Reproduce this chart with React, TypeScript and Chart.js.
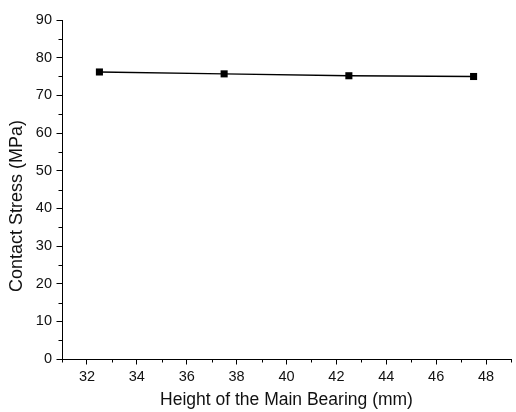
import React, { useEffect, useRef } from "react";
import { Chart, registerables } from "chart.js";

Chart.register(...registerables);

const heights = [32.5, 37.5, 42.5, 47.5];
const stress = [76.2, 75.7, 75.2, 75.0];
const xMajorTicks = [32, 34, 36, 38, 40, 42, 44, 46, 48];
const xMinorTicks = [31, 33, 35, 37, 39, 41, 43, 45, 47, 49];
const yMajorTicks = [0, 10, 20, 30, 40, 50, 60, 70, 80, 90];
const yMinorTicks = [5, 15, 25, 35, 45, 55, 65, 75, 85];
const xTitle = "Height of the Main Bearing (mm)";
const yTitle = "Contact Stress (MPa)";

const FONT = "'Liberation Sans', Arial, sans-serif";
const TEXT = "#111";

const decorPlugin = {
  id: "decor",
  afterDraw(chart: any) {
    const { ctx, chartArea, scales, height } = chart;
    ctx.save();
    ctx.strokeStyle = "#000";
    ctx.lineWidth = 1;
    ctx.beginPath();
    for (const v of xMinorTicks) {
      const px = Math.round(scales.x.getPixelForValue(v)) + 0.5;
      ctx.moveTo(px, chartArea.bottom);
      ctx.lineTo(px, chartArea.bottom + 3.5);
    }
    for (const v of yMinorTicks) {
      const py = Math.round(scales.y.getPixelForValue(v)) + 0.5;
      ctx.moveTo(chartArea.left, py);
      ctx.lineTo(chartArea.left - 3.5, py);
    }
    ctx.stroke();
    // y-axis title, centred on the canvas height
    ctx.translate(17.5, height / 2);
    ctx.rotate(-Math.PI / 2);
    ctx.fillStyle = TEXT;
    ctx.font = `18px ${FONT}`;
    ctx.textAlign = "center";
    ctx.textBaseline = "middle";
    ctx.fillText(yTitle, 0, 0);
    ctx.restore();
  },
};

export default function App() {
  const ref = useRef<HTMLCanvasElement | null>(null);
  useEffect(() => {
    if (!ref.current) return;
    Chart.defaults.font.family = FONT;
    const chart = new Chart(ref.current, {
      type: "scatter",
      data: {
        datasets: [
          {
            data: heights.map((h, i) => ({ x: h, y: stress[i] })),
            showLine: true,
            borderColor: "#000",
            borderWidth: 1.3,
            backgroundColor: "#000",
            pointStyle: "rect",
            pointRadius: 5,
            pointBorderWidth: 0,
            pointBackgroundColor: "#000",
          },
        ],
      },
      options: {
        animation: false,
        responsive: true,
        maintainAspectRatio: false,
        layout: { padding: { top: 20, right: 2, left: 0, bottom: 0 } },
        plugins: { legend: { display: false }, tooltip: { enabled: false } },
        scales: {
          x: {
            type: "linear",
            min: 31,
            max: 49,
            afterBuildTicks: (s: any) => {
              s.ticks = xMajorTicks.map((v) => ({ value: v }));
            },
            afterFit: (s: any) => {
              s.height = 53;
            },
            grid: { drawOnChartArea: false, drawTicks: true, tickLength: 5.5, tickColor: "#000" },
            border: { display: true, color: "#000", width: 1 },
            ticks: { color: TEXT, font: { size: 14.5 }, padding: 3.5, maxRotation: 0 },
            title: {
              display: true,
              text: xTitle,
              color: TEXT,
              font: { size: 17.5 },
              padding: { top: 4, bottom: 1.5 },
            },
          },
          y: {
            type: "linear",
            min: 0,
            max: 90,
            afterBuildTicks: (s: any) => {
              s.ticks = yMajorTicks.map((v) => ({ value: v }));
            },
            afterFit: (s: any) => {
              s.width = 62;
            },
            grid: { drawOnChartArea: false, drawTicks: true, tickLength: 5.5, tickColor: "#000" },
            border: { display: true, color: "#000", width: 1 },
            ticks: { color: TEXT, font: { size: 14.5 }, padding: 4.5 },
            title: { display: false },
          },
        },
      },
      plugins: [decorPlugin],
    } as any);
    return () => chart.destroy();
  }, []);
  return (
    <div style={{ position: "fixed", left: 0, top: 0, width: 516, height: 412, background: "#fff" }}>
      <canvas ref={ref} />
    </div>
  );
}
